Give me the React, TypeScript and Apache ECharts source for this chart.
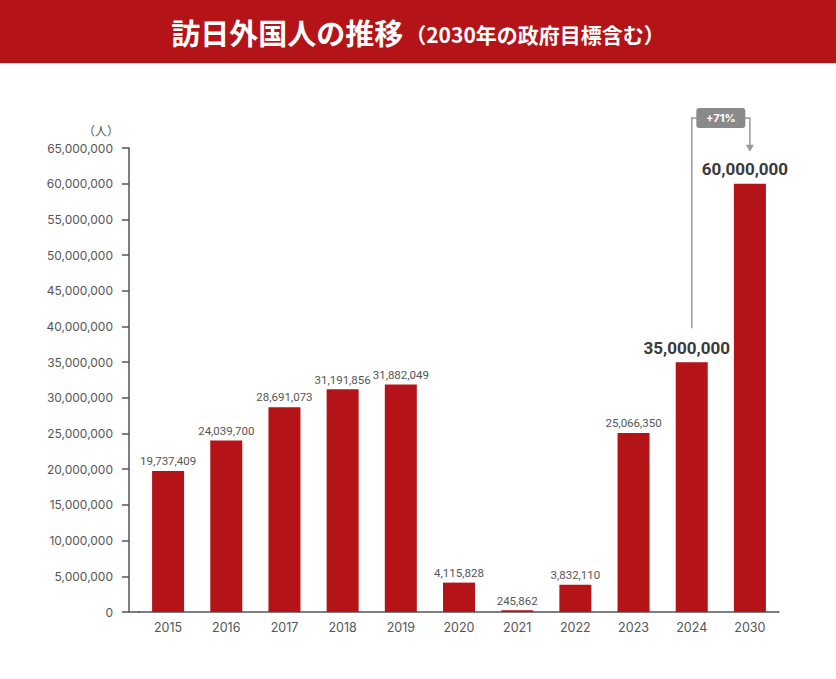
import React, { useEffect, useRef } from "react";
import * as echarts from "echarts";

const years = ["2015", "2016", "2017", "2018", "2019", "2020", "2021", "2022", "2023", "2024", "2030"];
const visitors = [19737409, 24039700, 28691073, 31191856, 31882049, 4115828, 245862, 3832110, 25066350, 35000000, 60000000];
const highlightedYears = ["2024", "2030"];
const growthFrom = "2024";
const growthTo = "2030";
const growthLabel = "+71%";
const yMin = 0;
const yMax = 65000000;
const yInterval = 5000000;
const titleMain = "訪日外国人の推移";
const titleSub = "（2030年の政府目標含む）";
const unitLabel = "（人）";

const RED = "#b41317";
const NUM_FONT = "Inter, 'Noto Sans CJK JP', sans-serif";
const LABEL_FONT = "Roboto, 'Noto Sans CJK JP', sans-serif";
const fmt = (v: number) => v.toLocaleString("en-US");

export default function App() {
  const ref = useRef<HTMLDivElement>(null);
  useEffect(() => {
    if (!ref.current) return;
    const chart = echarts.init(ref.current, null, { renderer: "svg" });
    const data = visitors.map((v, i) => {
      const hi = highlightedYears.includes(years[i]);
      return {
        value: v,
        label: hi
          ? { fontSize: 17, fontWeight: "bold", color: "#3a3a3a", offset: [-5, 0], distance: 6 }
          : undefined,
      };
    });
    chart.setOption({
      animation: false,
      backgroundColor: "#ffffff",
      title: {
        text: `{a|${titleMain}}{b|${titleSub}}`,
        left: "center",
        top: 12,
        textStyle: {
          rich: {
            a: { fontSize: 29, fontWeight: "bold", color: "#ffffff", fontFamily: "'Noto Sans CJK JP', sans-serif" },
            b: { fontSize: 21, fontWeight: "bold", color: "#ffffff", fontFamily: "'Noto Sans CJK JP', sans-serif", padding: [4, 0, 0, 2] },
          },
        },
        z: 10,
      },
      grid: { left: 139, right: 57, top: 148, bottom: 67, containLabel: false },
      xAxis: {
        type: "category",
        data: years,
        axisLine: { show: true, lineStyle: { color: "#555", width: 1.5 } },
        axisTick: { show: false },
        axisLabel: { color: "#555", fontSize: 12.5, margin: 9, fontFamily: NUM_FONT },
      },
      yAxis: {
        type: "value",
        min: yMin,
        max: yMax,
        interval: yInterval,
        offset: 10,
        name: unitLabel,
        nameLocation: "end",
        nameGap: 12,
        nameTextStyle: { color: "#555", fontSize: 12, align: "right", padding: [0, 10, 0, 0], fontFamily: "'Noto Sans CJK JP', sans-serif" },
        axisLine: { show: true, lineStyle: { color: "#555", width: 1.5 } },
        axisTick: { show: true, length: 7, lineStyle: { color: "#555", width: 1.5 } },
        splitLine: { show: false },
        axisLabel: { color: "#555", fontSize: 12, margin: 16, fontFamily: NUM_FONT, formatter: (v: number) => fmt(v) },
      },
      series: [
        {
          type: "bar",
          data,
          barWidth: 32,
          itemStyle: { color: RED },
          label: {
            show: true,
            position: "top",
            distance: 4,
            color: "#555",
            fontSize: 11.5,
            fontFamily: LABEL_FONT,
            formatter: (p: any) => fmt(p.value),
          },
        },
      ],
    });

    const iFrom = years.indexOf(growthFrom);
    const iTo = years.indexOf(growthTo);
    const [xa, ya] = chart.convertToPixel({ xAxisIndex: 0, yAxisIndex: 0 }, [iFrom, visitors[iFrom]]) as number[];
    const [xb, yb] = chart.convertToPixel({ xAxisIndex: 0, yAxisIndex: 0 }, [iTo, visitors[iTo]]) as number[];
    const [, yTop] = chart.convertToPixel({ xAxisIndex: 0, yAxisIndex: 0 }, [0, yMax]) as number[];
    const [x0, y0] = chart.convertToPixel({ xAxisIndex: 0, yAxisIndex: 0 }, [0, 0]) as number[];
    const bracketY = yTop - 30;
    const tipY = yb - 32;
    const lineColor = "#999";
    const width = chart.getWidth();

    chart.setOption({
      graphic: [
        { type: "rect", shape: { x: 0, y: 0, width, height: 63 }, style: { fill: RED }, z: 0 },
        { type: "line", shape: { x1: 0, y1: 63.5, x2: width, y2: 63.5 }, style: { stroke: "#e4e4e4", lineWidth: 1 }, z: 0 },
        { type: "line", shape: { x1: x0 - 39, y1: y0, x2: x0 - 28, y2: y0 }, style: { stroke: "#555", lineWidth: 1.5 }, z: 5 },
        {
          type: "polyline",
          shape: { points: [[xa, ya - 34], [xa, bracketY], [xb, bracketY], [xb, tipY - 6]] },
          style: { stroke: lineColor, lineWidth: 1.5, fill: null },
          z: 5,
        },
        {
          type: "polygon",
          shape: { points: [[xb - 4, tipY - 7], [xb + 4, tipY - 7], [xb, tipY]] },
          style: { fill: lineColor },
          z: 5,
        },
        {
          type: "rect",
          shape: { x: (xa + xb) / 2 - 24.5, y: bracketY - 10, width: 49, height: 20, r: 3 },
          style: { fill: "#8a8a8a" },
          z: 6,
        },
        {
          type: "text",
          x: (xa + xb) / 2,
          y: bracketY,
          style: {
            text: growthLabel,
            fill: "#ffffff",
            fontSize: 11,
            fontWeight: "bold",
            fontFamily: NUM_FONT,
            align: "center",
            verticalAlign: "middle",
          },
          z: 7,
        },
      ],
    });

    return () => chart.dispose();
  }, []);
  return <div ref={ref} style={{ position: "absolute", left: 0, top: 0, width: 836, height: 679 }} />;
}
